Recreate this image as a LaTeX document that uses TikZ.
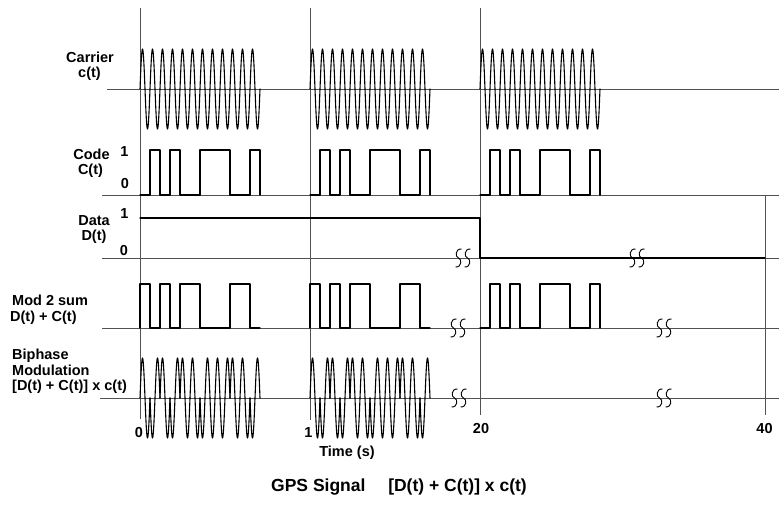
\documentclass[tikz,border=0pt]{standalone}
\usepackage{fontspec}
\setmainfont{Liberation Sans}
\newcommand\gpssquig[2]{%
  \foreach \dx in {-4.5,4.5}{%
    \draw[sq] ({#1+\dx+3},{#2-9}) .. controls ({#1+\dx-3.5},{#2-9.5}) and ({#1+\dx-3.5},{#2-1}) .. ({#1+\dx},{#2})
      .. controls ({#1+\dx+3.5},{#2+1}) and ({#1+\dx+3.5},{#2+9.5}) .. ({#1+\dx-3},{#2+9});
  }%
}
\begin{document}
\begin{tikzpicture}[x=1pt,y=-1pt,
  axis/.style={draw=black!68, line width=0.9pt},
  wave/.style={draw=black, line width=1.1pt, line join=round, line cap=round},
  sq/.style={draw=black, line width=0.9pt},
  lbl/.style={font=\fontsize{14.5}{16}\bfseries\selectfont, inner sep=0pt, anchor=base},
  lbll/.style={lbl, anchor=base west},
  ttl/.style={font=\fontsize{17.5}{20}\bfseries\selectfont, inner sep=0pt, anchor=base}]
\useasboundingbox[fill=white] (0,0) rectangle (779,517);

% vertical time lines
\draw[axis] (140,8) -- (140,419);
\draw[axis] (310,8) -- (310,420);
\draw[axis] (480,8) -- (480,415);
\draw[axis] (765,195) -- (765,415);

% horizontal axes
\draw[axis] (107,89) -- (779,89);
\draw[axis] (102,195) -- (779,195);
\draw[axis] (102,258) -- (779,258);
\draw[axis] (102,328) -- (779,328);
\draw[axis] (100,398) -- (779,398);

% carrier bursts
\foreach \o in {140,310,480}{
  \draw[wave] plot[domain=0:120, samples=481] ({\o+\x},{89-40*sin(36*\x)});
}

% code
\foreach \o in {0,170,340}{
  \draw[wave] ({140+\o},195) -- ({150+\o},195) -- ({150+\o},150) -- ({160+\o},150) -- ({160+\o},195)
    -- ({170+\o},195) -- ({170+\o},150) -- ({180+\o},150) -- ({180+\o},195) -- ({200+\o},195)
    -- ({200+\o},150) -- ({230+\o},150) -- ({230+\o},195) -- ({250+\o},195) -- ({250+\o},150)
    -- ({260+\o},150) -- ({260+\o},195);
}

% data
\draw[wave] (140,218) -- (480,218) -- (480,258) -- (765,258);

% mod 2 sum
\foreach \o in {0,170}{
  \draw[wave] ({140+\o},328) -- ({140+\o},284) -- ({150+\o},284) -- ({150+\o},328) -- ({160+\o},328)
    -- ({160+\o},284) -- ({170+\o},284) -- ({170+\o},328) -- ({180+\o},328) -- ({180+\o},284)
    -- ({200+\o},284) -- ({200+\o},328) -- ({230+\o},328) -- ({230+\o},284) -- ({250+\o},284)
    -- ({250+\o},328) -- ({260+\o},328);
}
\draw[wave] (480,328) -- (490,328) -- (490,284) -- (500,284) -- (500,328)
  -- (510,328) -- (510,284) -- (520,284) -- (520,328) -- (540,328)
  -- (540,284) -- (570,284) -- (570,328) -- (590,328) -- (590,284)
  -- (600,284) -- (600,328);

% biphase modulation
\foreach \o in {140,310}{
  \foreach \k/\s in {0/1,1/-1,2/1,3/-1,4/1,5/1,6/-1,7/-1,8/-1,9/1,10/1,11/-1}{
    \draw[wave] plot[domain=0:10, samples=41] ({\o+10*\k+\x},{398-40*\s*sin(36*\x)});
  }
}

% break marks
\gpssquig{463}{258}
\gpssquig{637}{258}
\gpssquig{458}{328}
\gpssquig{664}{328}
\gpssquig{459}{398}
\gpssquig{664}{398}

% labels
\node[lbl] (carrier) at (90,62.5) {Carrier};
\node[lbl] (carrierf) at (89.5,77.5) {c(t)};
\node[lbl] (code) at (91.5,159.5) {Code};
\node[lbl] (codef) at (90.5,174.5) {C(t)};
\node[lbl] (code1) at (124.5,156) {1};
\node[lbl] (code0) at (125,188) {0};
\node[lbl] (data) at (94,225) {Data};
\node[lbl] (dataf) at (94,240) {D(t)};
\node[lbl] (data1) at (124.5,218) {1};
\node[lbl] (data0) at (124,255) {0};
\node[lbll] (mod) at (12,305.5) {Mod 2 sum};
\node[lbll] (modf) at (10,321) {D(t) + C(t)};
\node[lbll] (bi) at (12,359) {Biphase};
\node[lbll] (bim) at (12,375.5) {Modulation};
\node[lbll] (bif) at (12,390.5) {[D(t) + C(t)] x c(t)};
\node[lbl] (t0) at (139,437) {0};
\node[lbl] (t1) at (308.5,437) {1};
\node[lbl] (t20) at (481,433) {20};
\node[lbl] (t40) at (764.5,433) {40};
\node[lbl] (time) at (347,456.5) {Time (s)};
\node[ttl] (title) at (399,491) {GPS Signal\hspace{1.3em}[D(t) + C(t)] x c(t)};
\end{tikzpicture}
\end{document}
